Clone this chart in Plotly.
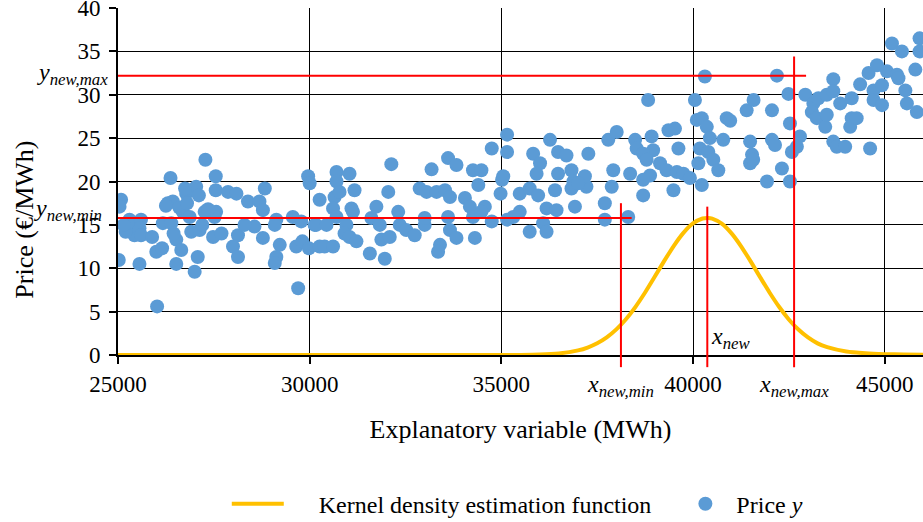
import plotly.graph_objects as go

# ---------------- data ----------------
price_x = [
    25080, 25040, 25020, 25300, 25350, 25430, 25600, 25560, 25600, 25560, 25890, 26020, 26000, 26150, 26170,
    26390, 26370, 26300, 26430, 26520, 26650, 26520, 26690, 26780, 26950, 27040, 27110, 26870, 26910, 27130,
    27000, 27080, 27280, 27260, 27480, 27550, 27550, 27560, 27520, 27870, 28090, 28130, 28000, 28130, 28390,
    28560, 28690, 28830, 28780, 28780, 29130, 29090, 29220, 29130, 29090, 29560, 29780, 29650, 29810, 29980,
    29700, 29960, 30000, 30130, 30260, 30260, 25200, 25250, 26250, 26600, 26800, 27200, 26450, 27700, 25150,
    26750, 27350, 28300,
    30170, 30440, 30390, 30610, 30700, 30700, 30650, 30780, 30610, 30700, 31040, 31170, 31090, 31130, 30960,
    30910, 31040, 31220, 31570, 31960, 31740, 31610, 31830, 31870, 32090, 32050, 32130, 32310, 32350, 32520,
    32740, 33000, 33000, 32870, 33050, 33180, 33310, 33530, 33660, 33610, 33830, 33610, 33660, 33830, 33400,
    33350, 34310, 34050, 34180, 34260, 34260, 34480, 34400, 34570, 34480, 34750, 34750, 34980, 35020, 35150,
    35150, 35150,
    35050, 35480, 35740, 35960, 35830, 36010, 35920, 36270, 36480, 36700, 36480, 36400, 36180, 36440, 36090,
    35480, 35310, 36830, 36880, 36830, 37220, 36920, 37180, 37270, 37000, 37700, 37700, 37920, 37880, 37790,
    38010, 38310, 38360, 38490, 38530, 38700, 38830, 38880, 38920, 38960, 38700, 38790, 39140, 39310, 39490,
    39360, 39530, 39620, 39580, 39750, 39920, 40140, 40230, 40050, 40310, 40100, 40230, 40360, 40440, 40180,
    40400, 40530, 38700, 35740, 36180,
    40880, 40970, 41400, 41580, 42060, 42490, 42530, 42790, 42710, 42580, 42530, 42320, 41930, 42060, 42140,
    41490, 41540, 41490, 41570, 40790, 40660, 42190, 42930, 43140, 43270, 43490, 43660, 43660, 43840, 44140,
    44360, 44580, 44800, 44710, 44710, 44930, 44930, 45060, 45320, 45360, 45540, 45580, 45840, 45800, 45190,
    45450, 45910, 45910, 43100, 43230, 43450, 43490, 44140, 44100, 44270, 43660, 43750, 43970, 44620,
]
price_y = [
    17.9, 17.1, 10.95, 15.6, 14.6, 13.8, 15.6, 14.6, 13.8, 10.5, 13.6, 5.6, 11.9, 12.3, 15.2,
    15.2, 20.4, 17.5, 17.7, 13.3, 12.1, 10.5, 16.5, 18.6, 19.0, 19.4, 18.4, 15.9, 14.2, 14.4,
    9.6, 11.3, 22.5, 16.5, 13.6, 20.6, 19.0, 16.5, 15.9, 18.8, 18.6, 13.8, 12.5, 11.3, 17.7,
    14.8, 17.7, 19.2, 16.7, 13.5, 15.6, 15.0, 12.7, 11.3, 10.6, 15.9, 15.4, 12.5, 13.1, 12.3,
    7.7, 20.6, 19.8, 15.0, 17.9, 12.5, 14.2, 15.2, 17.2, 17.0, 17.5, 15.0, 14.0, 14.0, 15.0,
    19.2, 16.8, 15.0,
    15.0, 15.0, 12.5, 12.5, 21.1, 20.0, 18.2, 18.8, 16.9, 15.9, 20.9, 19.0, 16.9, 16.5, 15.0,
    14.0, 13.6, 13.1, 11.7, 11.1, 17.1, 15.8, 15.0, 13.3, 13.6, 18.8, 22.0, 16.5, 15.0, 14.4,
    13.8, 15.0, 15.8, 19.2, 18.8, 21.4, 18.8, 19.0, 18.2, 22.7, 21.9, 15.9, 14.4, 13.5, 12.7,
    11.9, 13.5, 18.1, 17.1, 15.9, 21.3, 21.3, 19.6, 17.1, 16.5, 15.4, 23.8, 18.6, 20.2, 25.4,
    23.4, 15.6,
    20.6, 18.6, 19.2, 18.4, 23.2, 22.1, 20.9, 24.8, 23.4, 23.0, 20.9, 19.0, 16.9, 16.7, 15.2,
    16.5, 15.9, 21.3, 20.0, 19.2, 19.4, 17.1, 20.6, 23.2, 19.8, 17.5, 15.6, 21.3, 19.4, 24.8,
    25.7, 15.9, 20.9, 24.8, 23.8, 18.4, 29.4, 20.7, 25.2, 23.6, 23.2, 22.5, 22.1, 21.3, 19.0,
    25.9, 26.1, 23.8, 21.1, 20.9, 20.4, 22.1, 19.6, 29.4, 32.1, 27.1, 27.3, 26.3, 25.0, 23.8,
    23.4, 22.5, 20.2, 14.2, 14.2,
    27.3, 27.0, 28.2, 29.4, 28.2, 30.1, 26.7, 25.2, 24.0, 23.4, 20.0, 21.5, 20.0, 24.8, 24.2,
    24.6, 23.1, 22.1, 22.5, 24.8, 21.3, 32.2, 30.0, 29.0, 29.6, 30.0, 31.8, 30.4, 29.0, 29.6,
    31.2, 32.5, 33.4, 30.5, 29.4, 28.8, 31.1, 32.7, 32.3, 31.9, 30.5, 29.0, 28.0, 32.9, 35.9,
    35.0, 36.5, 35.0, 28.0, 27.3, 26.3, 27.7, 27.3, 26.3, 27.3, 24.6, 24.0, 24.0, 23.8,
]

kde_x = [25000, 30000, 34000, 35000, 35500, 36000, 36500, 37000, 37250, 37500, 37750, 38000, 38250,
         38500, 38750, 39000, 39250, 39500, 39750, 40000, 40250, 40400, 40500, 40750, 41000, 41250,
         41500, 41750, 42000, 42250, 42500, 42750, 43000, 43250, 43500, 44000, 44500, 45000, 45500, 46000]
kde_y = [0.0, 0.0, 0.0, 0.003, 0.013, 0.05, 0.18, 0.53, 0.86, 1.35, 2.03, 2.95, 4.12,
         5.55, 7.20, 9.01, 10.85, 12.59, 14.08, 15.16, 15.73, 15.8, 15.72, 15.14, 14.05, 12.56,
         10.82, 8.98, 7.18, 5.53, 4.10, 2.93, 2.02, 1.34, 0.9, 0.4, 0.2, 0.1, 0.05, 0.02]

x_tick_vals = [25000, 30000, 35000, 40000, 45000]
x_tick_text = ["25000", "30000", "35000", "40000", "45000"]
y_tick_vals = [0, 5, 10, 15, 20, 25, 30, 35, 40]
y_tick_text = ["0", "5", "10", "15", "20", "25", "30", "35", "40"]

x_new_min, x_new, x_new_max = 38120, 40373, 42637
y_new_min, y_new_max = 15.8, 32.2
# extents of the red guide lines (data units)
y_max_line_end, y_min_line_end = 42950, 38400
x_max_top, x_min_top, x_new_top = 34.4, 17.5, 17.1
guide_bottom = -1.4

X_RANGE = [25000, 46000]
Y_RANGE = [0, 40]

# ---------------- style ----------------
FONT = "Liberation Serif, Times New Roman, serif"
BLUE = "#5B9BD5"
GOLD = "#FFC000"
RED = "#FF0000"
NB = "\u00a0"


def ypaper(v):
    return (v - Y_RANGE[0]) / (Y_RANGE[1] - Y_RANGE[0])


fig = go.Figure()
fig.add_trace(go.Scatter(
    x=kde_x, y=kde_y, mode="lines", name=NB * 5 + "Kernel density estimation function" + NB * 3,
    line=dict(color=GOLD, width=4, shape="spline", smoothing=0.6),
))
fig.add_trace(go.Scatter(
    x=price_x, y=price_y, mode="markers", name="Price <i>y</i>",
    marker=dict(color=BLUE, size=14, line=dict(width=0)),
))

shapes = [
    dict(type="line", xref="x", yref="y", x0=X_RANGE[0], x1=y_max_line_end, y0=y_new_max, y1=y_new_max,
         line=dict(color=RED, width=2), layer="above"),
    dict(type="line", xref="x", yref="y", x0=X_RANGE[0], x1=y_min_line_end, y0=y_new_min, y1=y_new_min,
         line=dict(color=RED, width=2), layer="above"),
]
for xv, top in [(x_new_min, x_min_top), (x_new, x_new_top), (x_new_max, x_max_top)]:
    shapes.append(dict(type="line", xref="x", yref="paper", x0=xv, x1=xv,
                       y0=ypaper(guide_bottom), y1=ypaper(top),
                       line=dict(color=RED, width=2), layer="above"))

ann_font = dict(family=FONT, size=24, color="black")
annotations = [
    dict(text="<i>y</i><sub><i>new,max</i></sub>", xref="paper", x=0, xanchor="right", xshift=-8,
         yref="y", y=y_new_max, yanchor="middle", yshift=2, showarrow=False, font=ann_font),
    dict(text="<i>y</i><sub><i>new,min</i></sub>", xref="paper", x=0, xanchor="right", xshift=-14,
         yref="y", y=y_new_min, yanchor="middle", yshift=8, showarrow=False, font=ann_font),
    dict(text="<i>x</i><sub><i>new,min</i></sub>", xref="x", x=x_new_min, xanchor="center",
         yref="paper", y=0, yanchor="middle", yshift=-31, showarrow=False, font=ann_font),
    dict(text="<i>x</i><sub><i>new,max</i></sub>", xref="x", x=x_new_max, xanchor="center",
         yref="paper", y=0, yanchor="middle", yshift=-31, showarrow=False, font=ann_font),
    dict(text="<i>x</i><sub><i>new</i></sub>", xref="x", x=x_new, xanchor="left", xshift=2,
         yref="y", y=2.0, yanchor="middle", showarrow=False, font=ann_font),
    # y axis title
    dict(text="Price (€/MWh)", xref="paper", x=0, xanchor="center", xshift=-93,
         yref="paper", y=0.39, yanchor="middle", textangle=-90, showarrow=False,
         font=dict(family=FONT, size=26, color="black")),
]

fig.update_layout(
    width=923, height=522,
    margin=dict(l=118, r=0, t=8, b=167, autoexpand=False),
    paper_bgcolor="white", plot_bgcolor="white",
    font=dict(family=FONT, color="black", size=22),
    shapes=shapes, annotations=annotations,
    showlegend=True,
    legend=dict(orientation="h", x=0.496, xanchor="center", y=-0.43, yanchor="middle",
                font=dict(family=FONT, size=24, color="black"), itemwidth=52,
                bgcolor="rgba(0,0,0,0)"),
)
fig.update_xaxes(
    range=X_RANGE, tickvals=x_tick_vals, ticktext=x_tick_text, automargin=False,
    showgrid=True, gridcolor="black", gridwidth=1, zeroline=False,
    showline=True, linecolor="black", linewidth=2,
    ticks="outside", ticklen=7, tickwidth=2, tickcolor="black",
    tickfont=dict(family=FONT, size=23, color="black"),
    title=dict(text="Explanatory variable (MWh)", font=dict(family=FONT, size=26, color="black"), standoff=24),
)
fig.update_yaxes(
    range=Y_RANGE, tickvals=y_tick_vals, ticktext=y_tick_text, automargin=False,
    showgrid=True, gridcolor="black", gridwidth=1, zeroline=False,
    showline=True, linecolor="black", linewidth=2,
    ticks="outside", ticklen=7, tickwidth=2, tickcolor="black",
    tickfont=dict(family=FONT, size=23, color="black"),
    ticklabelstandoff=4, ticklabeloverflow="allow",
)

fig.write_html("out.html")
